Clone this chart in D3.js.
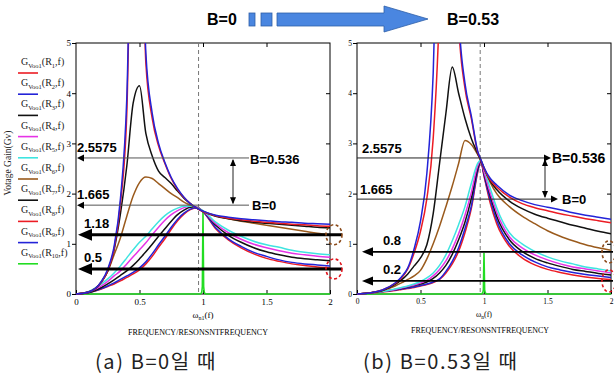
<!DOCTYPE html>
<html>
<head>
<meta charset="utf-8">
<script src="https://cdnjs.cloudflare.com/ajax/libs/d3/7.8.5/d3.min.js"></script>
<style>
  body { margin: 0; background: #fff; }
  svg { display: block; }
</style>
</head>
<body>
<div id="chart"></div>
<script>
// normalized frequency grid, panel (a) B=0
const freqLeft = [0, 0.1, 0.2, 0.25, 0.3, 0.35, 0.4, 0.45, 0.5, 0.55, 0.6, 0.65, 0.7, 0.75, 0.8, 0.85, 0.9, 0.95, 1.0, 1.1, 1.2, 1.3, 1.4, 1.5, 1.6, 1.7, 1.8, 1.9, 2.0];
// voltage gain, one row per R1..R9
const gainLeft = [
  [0, 0.04, 0.24, 0.47, 0.9, 1.8, 3.6, 9, 9, 4.6, 3.5, 2.95, 2.6, 2.3, 2.08, 1.92, 1.8, 1.71, 1.64, 1.56, 1.51, 1.48, 1.45, 1.43, 1.41, 1.39, 1.38, 1.36, 1.35],
  [0, 0.04, 0.25, 0.5, 0.95, 1.9, 3.9, 9, 9, 4.8, 3.6, 3.0, 2.62, 2.32, 2.1, 1.93, 1.8, 1.71, 1.65, 1.57, 1.53, 1.5, 1.48, 1.46, 1.44, 1.43, 1.41, 1.4, 1.39],
  [0, 0.04, 0.24, 0.46, 0.88, 1.6, 2.55, 3.8, 4.15, 3.2, 2.75, 2.45, 2.32, 2.2, 2.05, 1.91, 1.8, 1.71, 1.64, 1.55, 1.5, 1.46, 1.43, 1.41, 1.39, 1.37, 1.35, 1.33, 1.32],
  [0, 0.04, 0.16, 0.25, 0.36, 0.46, 0.6, 0.74, 0.88, 1.02, 1.18, 1.33, 1.47, 1.58, 1.66, 1.72, 1.75, 1.73, 1.65, 1.4, 1.22, 1.09, 0.99, 0.92, 0.86, 0.81, 0.78, 0.75, 0.73],
  [0, 0.05, 0.2, 0.3, 0.42, 0.56, 0.72, 0.88, 1.03, 1.15, 1.3, 1.44, 1.56, 1.65, 1.71, 1.75, 1.75, 1.72, 1.66, 1.43, 1.27, 1.15, 1.05, 0.98, 0.93, 0.87, 0.83, 0.8, 0.78],
  [0, 0.04, 0.24, 0.45, 0.78, 1.12, 1.55, 1.95, 2.22, 2.33, 2.3, 2.2, 2.1, 2.0, 1.92, 1.83, 1.77, 1.71, 1.65, 1.56, 1.5, 1.45, 1.41, 1.37, 1.33, 1.29, 1.25, 1.21, 1.18],
  [0, 0.03, 0.13, 0.2, 0.28, 0.37, 0.46, 0.57, 0.7, 0.84, 0.99, 1.15, 1.3, 1.45, 1.58, 1.67, 1.73, 1.73, 1.65, 1.37, 1.17, 1.03, 0.92, 0.84, 0.78, 0.73, 0.7, 0.68, 0.66],
  [0, 0.03, 0.1, 0.15, 0.2, 0.26, 0.33, 0.4, 0.48, 0.6, 0.75, 0.93, 1.1, 1.29, 1.46, 1.59, 1.68, 1.72, 1.64, 1.3, 1.08, 0.92, 0.8, 0.71, 0.65, 0.6, 0.57, 0.54, 0.52],
  [0, 0.03, 0.11, 0.16, 0.22, 0.29, 0.36, 0.43, 0.52, 0.64, 0.8, 0.98, 1.15, 1.33, 1.49, 1.61, 1.69, 1.72, 1.64, 1.32, 1.1, 0.95, 0.83, 0.75, 0.68, 0.63, 0.6, 0.58, 0.56]
];

// panel (b) B=0.53
const freqRight = [0, 0.1, 0.2, 0.3, 0.35, 0.4, 0.45, 0.5, 0.55, 0.6, 0.65, 0.7, 0.75, 0.8, 0.85, 0.9, 0.95, 0.975, 1.0, 1.05, 1.1, 1.2, 1.3, 1.4, 1.5, 1.6, 1.7, 1.8, 1.9, 2.0];
const gainRight = [
  [0, 0.02, 0.08, 0.21, 0.32, 0.5, 0.82, 1.25, 1.9, 3.1, 5.8, 12, 12, 5.4, 4.1, 3.5, 2.83, 2.67, 2.5, 2.27, 2.13, 1.93, 1.8, 1.72, 1.66, 1.6, 1.55, 1.5, 1.46, 1.42],
  [0, 0.02, 0.08, 0.22, 0.34, 0.52, 0.9, 1.45, 2.4, 4.4, 9, 12, 12, 5.6, 4.2, 3.55, 2.85, 2.68, 2.52, 2.3, 2.17, 1.97, 1.86, 1.78, 1.73, 1.68, 1.62, 1.57, 1.53, 1.49],
  [0, 0.02, 0.07, 0.19, 0.28, 0.4, 0.56, 0.72, 0.98, 1.6, 2.6, 3.6, 4.52, 4.0, 3.5, 3.1, 2.8, 2.66, 2.5, 2.25, 2.08, 1.85, 1.7, 1.59, 1.51, 1.44, 1.37, 1.31, 1.25, 1.2],
  [0, 0.02, 0.05, 0.09, 0.12, 0.15, 0.18, 0.22, 0.27, 0.36, 0.49, 0.66, 0.9, 1.2, 1.57, 2.02, 2.55, 2.66, 2.43, 2.0, 1.63, 1.14, 0.92, 0.78, 0.68, 0.6, 0.54, 0.5, 0.46, 0.42],
  [0, 0.02, 0.05, 0.1, 0.13, 0.16, 0.2, 0.25, 0.32, 0.42, 0.57, 0.78, 1.06, 1.38, 1.74, 2.2, 2.6, 2.67, 2.5, 2.1, 1.72, 1.22, 1.0, 0.85, 0.74, 0.66, 0.6, 0.54, 0.5, 0.46],
  [0, 0.02, 0.07, 0.16, 0.22, 0.29, 0.36, 0.47, 0.7, 1.0, 1.35, 1.74, 2.15, 2.6, 3.06, 2.98, 2.78, 2.66, 2.52, 2.22, 2.0, 1.74, 1.55, 1.4, 1.26, 1.15, 1.06, 0.98, 0.92, 0.87],
  [0, 0.02, 0.05, 0.09, 0.11, 0.14, 0.17, 0.2, 0.24, 0.31, 0.42, 0.57, 0.79, 1.08, 1.43, 1.9, 2.5, 2.65, 2.4, 1.95, 1.55, 1.08, 0.85, 0.71, 0.62, 0.55, 0.49, 0.45, 0.41, 0.38],
  [0, 0.02, 0.04, 0.07, 0.09, 0.11, 0.13, 0.16, 0.19, 0.23, 0.29, 0.42, 0.6, 0.85, 1.22, 1.7, 2.42, 2.64, 2.35, 1.8, 1.4, 0.95, 0.72, 0.58, 0.49, 0.43, 0.38, 0.34, 0.31, 0.29],
  [0, 0.02, 0.05, 0.08, 0.1, 0.12, 0.14, 0.17, 0.2, 0.24, 0.3, 0.45, 0.65, 0.92, 1.3, 1.75, 2.45, 2.65, 2.37, 1.87, 1.47, 1.0, 0.78, 0.64, 0.54, 0.48, 0.43, 0.39, 0.36, 0.33]
];

// R10: narrow spike at resonance
const spikeFreq = [0, 0.98, 0.99, 0.995, 1.0, 1.005, 1.01, 1.02, 2.0];
const spikeLeft = [0, 0, 0.03, 0.15, 1.66, 0.15, 0.03, 0, 0];
const spikeRight = [0, 0, 0.02, 0.08, 0.82, 0.08, 0.02, 0, 0];

const seriesIndex = ['1', '2', '3', '4', '5', '6', '7', '8', '9', '10'];
const seriesColors = ['#ec1c24', '#2323d8', '#111111', '#e633e6', '#3fe4e0', '#9a5a1c', '#111111', '#ec1c24', '#2323d8', '#22dd22'];

const xTicks = [0, 0.5, 1, 1.5, 2];
const yTicks = [0, 1, 2, 3, 4, 5];
const dashedAt = [0.965, 0.97];

// annotation levels (where they are drawn) and their printed labels
const guideLeft = [2.71, 1.77];
const guideRight = [2.71, 1.89];
const guideLabels = ['2.5575', '1.665'];
const arrowLeft = [1.18, 0.5];
const arrowLeftLabels = ['1.18', '0.5'];
const arrowRight = [0.84, 0.26];
const arrowRightLabels = ['0.8', '0.2'];
const bLabels = ['B=0.536', 'B=0'];

const serif = "'Liberation Serif', 'DejaVu Serif', serif";
const sans = "'Liberation Sans', Arial, sans-serif";

const svg = d3.select('#chart').append('svg')
  .attr('width', 614)
  .attr('height', 382);
svg.append('rect').attr('width', 614).attr('height', 382).attr('fill', '#fff');
const defs = svg.append('defs');

const y = d3.scaleLinear().domain([0, 5]).range([294, 43]);

function tri(g, pts, fill) {
  g.append('path').attr('d', 'M' + pts.map(p => p.join(',')).join('L') + 'Z').attr('fill', fill || '#000');
}

function drawPanel(p) {
  const x = d3.scaleLinear().domain([0, 2]).range(p.range);
  const g = svg.append('g');

  defs.append('clipPath').attr('id', 'clip-' + p.id)
    .append('rect')
    .attr('x', x(0)).attr('y', y(5))
    .attr('width', x(2) - x(0)).attr('height', y(0) - y(5) + 1);

  // ****************** axes ***************************
  const yAxis = g.append('g')
    .attr('transform', 'translate(' + x(0) + ',0)')
    .call(d3.axisLeft(y).tickValues(yTicks).tickSize(4).tickPadding(1).tickFormat(d3.format('d')));
  yAxis.select('.domain').remove();
  yAxis.selectAll('text').attr('font-family', serif).attr('font-size', p.tickFont);

  const xAxis = g.append('g')
    .attr('transform', 'translate(0,' + y(0) + ')')
    .call(d3.axisBottom(x).tickValues(xTicks).tickSize(-4).tickPadding(5).tickFormat(d => String(d)));
  xAxis.select('.domain').remove();
  xAxis.selectAll('text').attr('font-family', serif).attr('font-size', p.tickFont);

  // inner ticks on top and right
  const top = g.append('g')
    .attr('transform', 'translate(0,' + y(5) + ')')
    .call(d3.axisTop(x).tickValues(xTicks.slice(1, -1)).tickSize(-4).tickFormat(''));
  top.select('.domain').remove();
  const right = g.append('g')
    .attr('transform', 'translate(' + x(2) + ',0)')
    .call(d3.axisRight(y).tickValues(yTicks.slice(1, -1)).tickSize(-4).tickFormat(''));
  right.select('.domain').remove();

  g.append('rect')
    .attr('x', x(0)).attr('y', y(5))
    .attr('width', x(2) - x(0)).attr('height', y(0) - y(5))
    .attr('fill', 'none').attr('stroke', '#000').attr('stroke-width', 1);

  // resonance marker
  g.append('line')
    .attr('x1', x(p.dashed)).attr('x2', x(p.dashed))
    .attr('y1', y(5)).attr('y2', y(0))
    .attr('stroke', '#777').attr('stroke-width', 1).attr('stroke-dasharray', '4,3');

  // ****************** curves ***************************
  const curves = g.append('g').attr('clip-path', 'url(#clip-' + p.id + ')');
  const line = d3.line()
    .x(d => x(d[0]))
    .y(d => y(d[1]))
    .curve(d3.curveMonotoneX);

  curves.append('path')
    .datum(spikeFreq.map((f, i) => [f, p.spike[i]]))
    .attr('d', line.curve(d3.curveLinear))
    .attr('fill', 'none')
    .attr('stroke', seriesColors[9])
    .attr('stroke-width', 1.6);
  line.curve(d3.curveMonotoneX);

  const order = [7, 8, 6, 3, 4, 5, 2, 0, 1];
  order.forEach(function (k) {
    curves.append('path')
      .datum(p.freq.map((f, i) => [f, p.gain[k][i]]))
      .attr('d', line)
      .attr('fill', 'none')
      .attr('stroke', seriesColors[k])
      .attr('stroke-width', 1.5);
  });

  p.annotate(g, x);
}

// ****************** panel (a) ***************************
drawPanel({
  id: 'a', range: [76, 330], freq: freqLeft, gain: gainLeft, spike: spikeLeft,
  dashed: dashedAt[0], tickFont: 9,
  annotate: function (g, x) {
    guideLeft.forEach(function (v, i) {
      g.append('line').attr('x1', x(0) + 4).attr('x2', 249)
        .attr('y1', y(v)).attr('y2', y(v))
        .attr('stroke', '#555').attr('stroke-width', 1);
      tri(g, [[x(0) + 1, y(v)], [x(0) + 8, y(v) - 3.5], [x(0) + 8, y(v) + 3.5]]);
      g.append('text').attr('x', x(0) + 1).attr('y', y(v) - 6)
        .attr('font-family', sans).attr('font-weight', 'bold').attr('font-size', 13)
        .text(guideLabels[i]);
    });
    // gap between the two levels
    const vx = 233;
    g.append('line').attr('x1', vx).attr('x2', vx).attr('y1', y(guideLeft[0]) + 2).attr('y2', y(guideLeft[1]) - 2)
      .attr('stroke', '#222').attr('stroke-width', 1);
    tri(g, [[vx, y(guideLeft[0]) + 1], [vx - 3, y(guideLeft[0]) + 8], [vx + 3, y(guideLeft[0]) + 8]]);
    tri(g, [[vx, y(guideLeft[1]) - 1], [vx - 3, y(guideLeft[1]) - 8], [vx + 3, y(guideLeft[1]) - 8]]);
    g.append('text').attr('x', 250).attr('y', y(guideLeft[0]) + 6)
      .attr('font-family', sans).attr('font-weight', 'bold').attr('font-size', 13).text(bLabels[0]);
    g.append('text').attr('x', 252).attr('y', y(guideLeft[1]) + 5)
      .attr('font-family', sans).attr('font-weight', 'bold').attr('font-size', 13).text(bLabels[1]);

    arrowLeft.forEach(function (v, i) {
      g.append('line').attr('x1', x(0) + 12).attr('x2', 342)
        .attr('y1', y(v)).attr('y2', y(v))
        .attr('stroke', '#000').attr('stroke-width', 3);
      tri(g, [[x(0) + 2, y(v)], [x(0) + 16, y(v) - 6], [x(0) + 16, y(v) + 6]]);
      g.append('text').attr('x', x(0) + 8).attr('y', y(v) - 7)
        .attr('font-family', sans).attr('font-weight', 'bold').attr('font-size', 13)
        .text(arrowLeftLabels[i]);
    });

    g.append('ellipse').attr('cx', 334).attr('cy', y(arrowLeft[0])).attr('rx', 8).attr('ry', 10)
      .attr('fill', 'none').attr('stroke', '#8b4a1a').attr('stroke-width', 1.6).attr('stroke-dasharray', '3,2.5');
    g.append('ellipse').attr('cx', 334).attr('cy', y(arrowLeft[1])).attr('rx', 8).attr('ry', 10)
      .attr('fill', 'none').attr('stroke', '#e0141c').attr('stroke-width', 1.6).attr('stroke-dasharray', '3,2.5');

    // x title
    const t = g.append('text').attr('x', x(1)).attr('y', 318).attr('text-anchor', 'middle')
      .attr('font-family', serif).attr('font-size', 9);
    t.append('tspan').text('ω');
    t.append('tspan').attr('font-size', 6).attr('dy', 2).text('n1');
    t.append('tspan').attr('dy', -2).text('(f)');
    g.append('text').attr('x', x(1) - 5).attr('y', 335).attr('text-anchor', 'middle')
      .attr('font-family', serif).attr('font-size', 8).attr('textLength', 140).attr('lengthAdjust', 'spacingAndGlyphs')
      .text('FREQUENCY/RESONSNTFREQUENCY');
  }
});

// ****************** panel (b) ***************************
drawPanel({
  id: 'b', range: [357, 611], freq: freqRight, gain: gainRight, spike: spikeRight,
  dashed: dashedAt[1], tickFont: 7.5,
  annotate: function (g, x) {
    const ends = [551, 558];
    guideRight.forEach(function (v, i) {
      g.append('line').attr('x1', x(0)).attr('x2', ends[i] - 5)
        .attr('y1', y(v)).attr('y2', y(v))
        .attr('stroke', '#222').attr('stroke-width', 1);
      tri(g, [[ends[i], y(v)], [ends[i] - 7, y(v) - 3.5], [ends[i] - 7, y(v) + 3.5]]);
      g.append('text').attr('x', x(0) + (i ? 3 : 5)).attr('y', y(v) - 5)
        .attr('font-family', sans).attr('font-weight', 'bold').attr('font-size', 13)
        .text(guideLabels[i]);
    });
    const vx = 545;
    g.append('line').attr('x1', vx).attr('x2', vx).attr('y1', y(guideRight[0]) + 2).attr('y2', y(guideRight[1]) - 2)
      .attr('stroke', '#222').attr('stroke-width', 1);
    tri(g, [[vx, y(guideRight[0]) + 1], [vx - 3, y(guideRight[0]) + 8], [vx + 3, y(guideRight[0]) + 8]]);
    tri(g, [[vx, y(guideRight[1]) - 1], [vx - 3, y(guideRight[1]) - 8], [vx + 3, y(guideRight[1]) - 8]]);
    g.append('text').attr('x', 552).attr('y', y(guideRight[0]) + 5)
      .attr('font-family', sans).attr('font-weight', 'bold').attr('font-size', 14).text(bLabels[0]);
    g.append('text').attr('x', 562).attr('y', y(guideRight[1]) + 5)
      .attr('font-family', sans).attr('font-weight', 'bold').attr('font-size', 13).text(bLabels[1]);

    arrowRight.forEach(function (v, i) {
      g.append('line').attr('x1', x(0) + 12).attr('x2', 613)
        .attr('y1', y(v)).attr('y2', y(v))
        .attr('stroke', '#000').attr('stroke-width', 1.8);
      tri(g, [[x(0) + 5, y(v)], [x(0) + 16, y(v) - 4.5], [x(0) + 16, y(v) + 4.5]]);
      g.append('text').attr('x', 383).attr('y', y(v) - 7)
        .attr('font-family', sans).attr('font-weight', 'bold').attr('font-size', 13)
        .text(arrowRightLabels[i]);
    });

    g.append('ellipse').attr('cx', 609).attr('cy', y(arrowRight[0])).attr('rx', 7).attr('ry', 11)
      .attr('fill', 'none').attr('stroke', '#8b4a1a').attr('stroke-width', 1.6).attr('stroke-dasharray', '3,2.5');
    g.append('ellipse').attr('cx', 609).attr('cy', y(arrowRight[1])).attr('rx', 7).attr('ry', 11)
      .attr('fill', 'none').attr('stroke', '#e0141c').attr('stroke-width', 1.6).attr('stroke-dasharray', '3,2.5');

    const t = g.append('text').attr('x', x(1)).attr('y', 317).attr('text-anchor', 'middle')
      .attr('font-family', serif).attr('font-size', 8);
    t.append('tspan').text('ω');
    t.append('tspan').attr('font-size', 5.5).attr('dy', 2).text('n');
    t.append('tspan').attr('dy', -2).text('(f)');
    g.append('text').attr('x', x(1) - 4).attr('y', 333).attr('text-anchor', 'middle')
      .attr('font-family', serif).attr('font-size', 8).attr('textLength', 138).attr('lengthAdjust', 'spacingAndGlyphs')
      .text('FREQUENCY/RESONSNTFREQUENCY');
  }
});

// ****************** legend ***************************
const legend = svg.append('g');
seriesIndex.forEach(function (n, i) {
  const by = 65 + i * 21.2;
  const t = legend.append('text').attr('x', 21).attr('y', by)
    .attr('font-family', serif).attr('font-size', 10).attr('fill', '#222');
  t.append('tspan').text('G');
  t.append('tspan').attr('font-size', 6.5).attr('dy', 2.5).text('Voo1');
  t.append('tspan').attr('dy', -2.5).text('(R');
  t.append('tspan').attr('font-size', 6.5).attr('dy', 2.5).text(n);
  t.append('tspan').attr('dy', -2.5).text(',f)');
  legend.append('line').attr('x1', 18).attr('x2', 38)
    .attr('y1', by + 8).attr('y2', by + 8)
    .attr('stroke', seriesColors[i]).attr('stroke-width', 1.6);
});

svg.append('text')
  .attr('transform', 'translate(11,163) rotate(-90)')
  .attr('text-anchor', 'middle')
  .attr('font-family', serif).attr('font-size', 9.5).attr('fill', '#222')
  .text('Votage Gain(Gv)');

// ****************** banner ***************************
svg.append('text').attr('x', 207).attr('y', 25)
  .attr('font-family', sans).attr('font-weight', 'bold').attr('font-size', 16).text('B=0');
svg.append('text').attr('x', 447).attr('y', 25)
  .attr('font-family', sans).attr('font-weight', 'bold').attr('font-size', 16).text('B=0.53');
const blue = svg.append('g').attr('fill', '#4a86e0').attr('stroke', '#2f5fa8').attr('stroke-width', 0.8);
blue.append('rect').attr('x', 249).attr('y', 13).attr('width', 6).attr('height', 13);
blue.append('rect').attr('x', 261).attr('y', 13).attr('width', 11).attr('height', 13);
blue.append('path').attr('d', 'M277,13L384,13L384,6L428,19L384,32L384,26L277,26Z');

// ****************** captions ***************************
svg.append('text').attr('x', 95).attr('y', 369)
  .attr('font-family', "'Noto Sans CJK KR', sans-serif").attr('font-size', 20).attr('letter-spacing', 1.6)
  .attr('fill', '#222').text('(a) B=0일 때');
svg.append('text').attr('x', 363).attr('y', 369)
  .attr('font-family', "'Noto Sans CJK KR', sans-serif").attr('font-size', 20).attr('letter-spacing', 1.6)
  .attr('fill', '#222').text('(b) B=0.53일 때');
</script>
</body>
</html>
